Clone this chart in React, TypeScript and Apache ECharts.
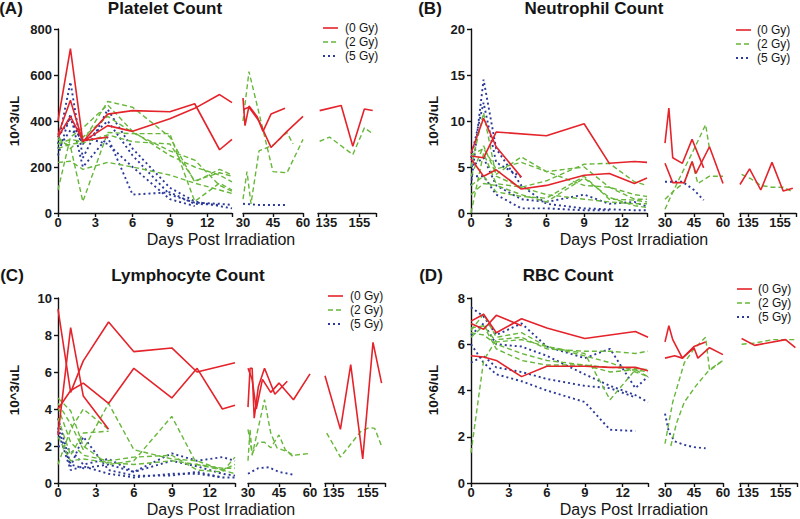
import React, { useEffect, useRef } from "react";
import * as echarts from "echarts";

// ---------- data ----------
const groupNames = ["(0 Gy)", "(2 Gy)", "(5 Gy)"];
const panelTitles = ["Platelet Count", "Neutrophil Count", "Lymphocyte Count", "RBC Count"];
const panelLetters = ["(A)", "(B)", "(C)", "(D)"];
const yUnits = ["10^3/uL", "10^3/uL", "10^3/uL", "10^6/uL"];
const yMaxes = [800, 20, 10, 8];
const yIntervals = [200, 5, 2, 2];
const xTitle = "Days Post Irradiation";

const segRanges = [[0, 14], [30, 60], [130, 165]];
const segLabels = [[0, 3, 6, 9, 12], [30, 45, 60], [135, 155]];
const segTicks = [[0, 3, 6, 9, 12, 14], [30, 45, 60], [130, 135, 155, 165]];

// Panel A: platelets (each inner list = one animal, [day, value])
const plateletRed = [
  [[0, 400], [1, 715], [2, 310], [4, 430], [6, 445], [9, 440], [11, 475], [13, 275], [14, 320]],
  [[0, 340], [1, 490], [2, 310], [4, 380], [6, 355], [9, 410], [11, 455], [13, 515], [14, 480]],
  [[0, 330], [1, 420], [2, 315], [4, 330]],
  [[30, 500], [31, 380], [33, 465], [37, 420], [40, 355], [44, 430], [51, 455]],
  [[30, 450], [33, 460], [38, 400], [44, 285], [52, 355], [60, 420]],
  [[131, 445], [144, 467], [151, 290], [158, 452], [163, 446]],
];
const plateletGreen = [
  [[0, 300], [1, 320], [2, 310], [4, 485], [6, 460], [9, 330], [11, 135], [13, 190], [14, 165]],
  [[0, 320], [1, 290], [2, 50], [4, 350], [6, 345], [9, 345], [11, 50], [13, 130], [14, 100]],
  [[0, 220], [1, 225], [2, 190], [4, 220], [6, 200], [9, 165], [11, 130], [13, 100], [14, 85]],
  [[0, 100], [1, 330], [2, 370], [4, 470], [6, 355], [9, 250], [11, 200], [13, 165], [14, 135]],
  [[0, 330], [1, 280], [2, 330], [4, 420], [6, 350], [9, 270], [11, 230], [13, 120], [14, 95]],
  [[0, 280], [1, 300], [2, 305], [4, 340], [6, 310], [9, 300], [11, 140], [13, 175], [14, 160]],
  [[30, 400], [33, 615], [45, 180], [52, 175], [60, 320]],
  [[30, 60], [32, 180], [34, 40], [38, 270], [45, 295], [52, 350], [55, 300]],
  [[131, 312], [137, 330], [151, 254], [158, 370], [163, 345]],
];
const plateletBlue = [
  [[0, 300], [1, 570], [2, 240], [4, 450], [6, 280], [9, 110], [11, 50], [13, 30], [14, 20]],
  [[0, 250], [1, 430], [2, 200], [4, 330], [6, 80], [9, 90], [11, 40], [13, 35]],
  [[0, 330], [1, 410], [2, 300], [4, 400], [6, 250], [9, 80], [11, 45], [13, 40], [14, 35]],
  [[0, 280], [1, 360], [2, 330], [4, 300], [6, 200], [9, 60], [11, 30]],
  [[30, 40], [38, 35], [45, 35], [52, 35]],
];

// Panel B: neutrophils
const neutroRed = [
  [[0, 6.2], [1, 6.0], [2, 8.8], [6, 8.4], [9, 9.7], [11, 5.4], [13, 5.6], [14, 5.5]],
  [[0, 6.5], [1, 10.3], [2, 7.2], [4, 3.9]],
  [[0, 5.9], [1, 4.0], [2, 4.7], [4, 2.6], [6, 3.0], [9, 4.1], [11, 4.3], [13, 3.2], [14, 3.8]],
  [[30, 7.6], [32, 11.4], [34, 6.0], [39, 5.4], [44, 8.0], [50, 4.9]],
  [[30, 5.4], [34, 3.3], [40, 3.3], [44, 5.6], [46, 4.3], [53, 7.2], [60, 3.2]],
  [[130, 3.1], [136, 4.8], [143, 2.5], [150, 5.5], [157, 2.4], [163, 2.7]],
];
const neutroGreen = [
  [[0, 5], [1, 10.9], [2, 4], [4, 2.8], [6, 2.0], [9, 1.5], [11, 1.2], [13, 1.0], [14, 1.0]],
  [[0, 4], [1, 7.3], [2, 4.2], [4, 6.1], [6, 4.5], [9, 3], [11, 2.8], [13, 2.0], [14, 1.8]],
  [[0, 0], [1, 6.5], [2, 3.2], [4, 2.8], [6, 3.5], [9, 5.3], [11, 5.4], [13, 3.4], [14, 3.0]],
  [[0, 3], [1, 4], [2, 2.3], [4, 1.8], [6, 1.6], [9, 4.0], [11, 1.5], [13, 1.4], [14, 1.2]],
  [[0, 6.3], [1, 7], [2, 4.8], [4, 5.5], [6, 4.5], [9, 5], [11, 2.8], [13, 1.5], [14, 1.5]],
  [[0, 2], [1, 3.2], [2, 3], [4, 2], [6, 1.2], [9, 3.8], [11, 1.7], [13, 0.8], [14, 0.6]],
  [[30, 0.4], [33, 1.8], [38, 4], [44, 6.5], [51, 9.6], [53, 7]],
  [[30, 1.5], [35, 2.5], [40, 3.3], [44, 5.6], [47, 3.2], [53, 4.0], [60, 4.0]],
  [[131, 4.2], [137, 3.7], [143, 3.0], [150, 2.8], [157, 2.8], [163, 2.3]],
];
const neutroBlue = [
  [[0, 3], [1, 14.5], [2, 7], [4, 3], [6, 1], [9, 0.5], [11, 0.4], [13, 0.3], [14, 0.3]],
  [[0, 6], [1, 12], [2, 5.5], [4, 3.9]],
  [[0, 5], [1, 6], [2, 3], [4, 1.5], [6, 1.2], [9, 2.0], [11, 1], [13, 1.2], [14, 0.7]],
  [[0, 4], [1, 4], [2, 2], [4, 0.5], [6, 0.5], [9, 0.3], [11, 0.3]],
  [[30, 3.4], [39, 3.4], [45, 2.5], [50, 1.4]],
];

// Panel C: lymphocytes
const lymphRed = [
  [[0, 9.4], [1, 4.9], [2, 6.6], [4, 8.7], [6, 7.1], [9, 7.3], [11, 6.0], [14, 6.5]],
  [[0, 2.6], [1, 8.4], [2, 4.7], [4, 2.9]],
  [[0, 4.0], [1, 5.0], [2, 5.4], [4, 4.3], [6, 6.2], [9, 4.6], [11, 6.2], [13, 4.0], [14, 4.2]],
  [[30, 4.1], [31, 6.2], [32, 6.2], [33, 3.5], [35, 5.2], [38, 6.2], [43, 4.8], [49, 5.5]],
  [[30, 6.2], [32, 5.6], [34, 4.0], [37, 5.6], [41, 4.9], [45, 5.4], [52, 4.5], [60, 5.9]],
  [[130, 5.8], [139, 2.9], [145, 6.4], [152, 1.3], [158, 7.6], [163, 5.4]],
];
const lymphGreen = [
  [[0, 4.6], [1, 3.9], [2, 2.0], [4, 1.0], [6, 1.2], [9, 3.6], [11, 1.0], [13, 0.7], [14, 1.0]],
  [[0, 4.3], [1, 3.2], [2, 1.8], [4, 4.3], [6, 1.8], [9, 1.3], [11, 1.2], [13, 0.7], [14, 0.5]],
  [[0, 1.0], [1, 2.9], [2, 4.0], [4, 2.9]],
  [[0, 3.5], [1, 1.5], [2, 2.7], [4, 2.8]],
  [[0, 2.5], [1, 1.2], [2, 1.3], [4, 1.1], [6, 1.0], [9, 1.2], [11, 1.0], [13, 0.8], [14, 0.8]],
  [[0, 4.1], [1, 2.2], [2, 1.5], [4, 1.2], [6, 1.4], [9, 1.5], [11, 0.7], [13, 0.6], [14, 1.4]],
  [[30, 1.2], [31, 2.9], [32, 1.5], [36, 3.5], [38, 4.5], [41, 2.7], [44, 1.9], [49, 1.7], [52, 1.5], [60, 1.6]],
  [[30, 2.9], [32, 1.6], [35, 2.2], [38, 2.2], [41, 1.9], [45, 2.6], [48, 1.8], [52, 1.4]],
  [[131, 2.7], [139, 1.4], [151, 2.8], [156, 3.0], [159, 2.95], [163, 2.0]],
];
const lymphBlue = [
  [[0, 3.5], [1, 1.0], [2, 0.8], [4, 1.0], [6, 0.6], [9, 1.6], [11, 1.2], [13, 1.4], [14, 1.2]],
  [[0, 2.8], [1, 0.7], [2, 0.9], [4, 0.5], [6, 0.3], [9, 0.5], [11, 0.5], [13, 0.3], [14, 0.3]],
  [[0, 2.0], [1, 1.8], [2, 1.0], [4, 1.3], [6, 0.6], [9, 1.2], [11, 0.9], [13, 0.5], [14, 0.4]],
  [[0, 3.0], [1, 0.9], [2, 2.5], [4, 0.7], [6, 0.4], [9, 0.4], [11, 0.6], [13, 0.3]],
  [[30, 0.5], [35, 0.8], [40, 0.85], [45, 0.6], [52, 0.45]],
];

// Panel D: RBC
const rbcRed = [
  [[0, 7.0], [1, 7.3], [2, 6.5], [4, 7.1], [6, 6.7], [9, 6.25], [11, 6.4], [13, 6.55], [14, 6.3]],
  [[0, 6.9], [1, 6.65], [2, 7.25], [4, 6.8]],
  [[0, 5.5], [1, 5.45], [2, 5.3], [4, 4.6], [6, 5.05], [9, 5.05], [11, 5.0], [13, 5.0], [14, 4.85]],
  [[30, 6.1], [32, 6.8], [34, 6.2], [39, 5.4], [45, 5.9], [51, 6.1]],
  [[30, 5.4], [35, 5.5], [39, 5.4], [45, 5.85], [47, 5.4], [53, 5.85], [60, 5.55]],
  [[131, 6.25], [139, 5.95], [158, 6.2], [164, 5.85]],
];
const rbcGreen = [
  [[0, 1.3], [1, 5.3], [2, 6.2], [4, 6.3], [6, 5.8], [9, 5.7], [11, 5.7], [13, 5.6], [14, 5.7]],
  [[0, 6.7], [1, 6.8], [2, 6.1], [4, 6.2], [6, 5.9], [9, 5.6], [11, 3.6], [13, 4.9], [14, 4.6]],
  [[0, 6.5], [1, 6.4], [2, 6.0], [4, 5.6], [6, 5.3], [9, 5.1], [11, 4.8], [13, 4.9], [14, 4.8]],
  [[0, 6.3], [1, 6.8], [2, 5.8], [4, 5.3], [6, 5.1], [9, 5.1], [11, 5.0], [13, 4.95], [14, 4.9]],
  [[0, 6.6], [1, 7.3], [2, 6.3], [4, 6.5], [6, 5.9], [9, 5.5], [11, 5.2], [13, 4.8], [14, 4.6]],
  [[30, 1.7], [34, 3.5], [40, 5.2], [45, 5.8], [51, 6.3], [53, 4.9], [60, 5.3]],
  [[33, 1.6], [36, 2.6], [40, 3.5], [46, 4.2], [52, 4.8], [60, 5.3]],
  [[131, 6.0], [139, 6.05], [150, 6.2], [158, 6.2], [164, 6.2]],
];
const rbcBlue = [
  [[0, 7.6], [1, 7.2], [2, 6.4], [4, 6.9], [6, 5.9], [9, 5.4], [11, 5.8], [13, 4.1], [14, 4.6]],
  [[0, 6.4], [1, 6.9], [2, 6.0], [4, 5.9], [6, 5.5], [9, 4.7], [11, 4.2], [13, 3.8], [14, 3.5]],
  [[0, 6.0], [1, 5.2], [2, 4.7], [4, 4.4], [6, 4.0], [9, 3.5], [11, 2.3], [13, 2.25]],
  [[0, 5.2], [1, 5.5], [2, 5.0], [4, 4.8], [6, 4.5], [9, 4.2], [11, 4.1], [13, 3.7]],
  [[30, 3.0], [32, 2.2], [35, 1.8], [40, 1.65], [45, 1.55], [51, 1.5]],
];

const panelData = [
  [plateletRed, plateletGreen, plateletBlue],
  [neutroRed, neutroGreen, neutroBlue],
  [lymphRed, lymphGreen, lymphBlue],
  [rbcRed, rbcGreen, rbcBlue],
];

// ---------- styling / layout ----------
const FONT = "'Liberation Sans', Arial, Helvetica, sans-serif";
const COLORS = ["#e5232b", "#67b73a", "#2b3a98"];
const LINE_TYPES: any[] = ["solid", [5, 3], [2, 3]];
const LINE_WIDTHS = [1.6, 1.4, 1.9];
const AXIS_COLOR = "#111";
const LEGEND_STEP = 14;

const layouts = [
  { top: 29, height: 184, segs: [[58, 174], [243, 60], [318, 58]], legend: [323, 345, 28], title: [165, 8], letter: [11, 8], yName: [14, 121], xName: [221, 239] },
  { top: 29, height: 184, segs: [[471, 176], [665, 58], [740, 56]], legend: [736, 757, 30], title: [594, 8], letter: [430, 8], yName: [433, 121], xName: [634, 239] },
  { top: 298, height: 185, segs: [[58, 177], [248, 62], [325, 60]], legend: [328, 350, 296], title: [188, 275], letter: [12, 275], yName: [14, 390], xName: [221, 509] },
  { top: 298, height: 185, segs: [[471, 177], [665, 58], [740, 57]], legend: [737, 758, 289], title: [568, 275], letter: [431, 275], yName: [433, 390], xName: [634, 509] },
];

function segOf(line: number[][]) {
  const d = line[0][0];
  return d < 20 ? 0 : d < 100 ? 1 : 2;
}

function textEl(text: string, x: number, y: number, size: number, weight: string, align = "center", rotation = 0) {
  return {
    type: "text",
    x,
    y,
    rotation,
    silent: true,
    style: {
      text,
      fontSize: size,
      fontWeight: weight,
      fontFamily: FONT,
      fill: "#151515",
      align,
      verticalAlign: "middle",
      textAlign: align,
      textVerticalAlign: "middle",
    },
  };
}

function buildOption() {
  const grid: any[] = [];
  const xAxis: any[] = [];
  const yAxis: any[] = [];
  const series: any[] = [];
  const graphic: any[] = [];

  layouts.forEach((lay, pi) => {
    lay.segs.forEach((seg, s) => {
      const gi = pi * 3 + s;
      grid.push({ left: seg[0], top: lay.top, width: seg[1], height: lay.height, containLabel: false });
      xAxis.push({
        type: "value",
        gridIndex: gi,
        min: segRanges[s][0],
        max: segRanges[s][1],
        axisLine: { show: true, onZero: false, lineStyle: { color: AXIS_COLOR, width: 1.4 } },
        axisTick: { show: true, length: 4, customValues: segTicks[s], lineStyle: { color: AXIS_COLOR, width: 1.4 } },
        axisLabel: {
          customValues: segLabels[s],
          fontSize: 13,
          fontWeight: "bold",
          fontFamily: FONT,
          color: "#1a1a1a",
          margin: 3,
        },
        splitLine: { show: false },
      });
      yAxis.push({
        type: "value",
        gridIndex: gi,
        min: 0,
        max: yMaxes[pi],
        interval: yIntervals[pi],
        show: s === 0,
        axisLine: { show: true, lineStyle: { color: AXIS_COLOR, width: 1.4 } },
        axisTick: { show: true, length: 4, lineStyle: { color: AXIS_COLOR, width: 1.4 } },
        axisLabel: { fontSize: 13, fontWeight: "bold", fontFamily: FONT, color: "#1a1a1a", margin: 6 },
        splitLine: { show: false },
      });
    });

    // draw blue, then green, then red on top
    [2, 1, 0].forEach((g) => {
      panelData[pi][g].forEach((line) => {
        const gi = pi * 3 + segOf(line);
        series.push({
          type: "line",
          name: groupNames[g],
          xAxisIndex: gi,
          yAxisIndex: gi,
          data: line,
          showSymbol: false,
          symbol: "none",
          silent: true,
          lineStyle: { color: COLORS[g], width: LINE_WIDTHS[g], type: LINE_TYPES[g] },
          itemStyle: { color: COLORS[g] },
        });
      });
    });

    // legend (drawn as graphic so the line styles match the series)
    groupNames.forEach((name, g) => {
      const y = lay.legend[2] + g * LEGEND_STEP;
      graphic.push({
        type: "line",
        silent: true,
        shape: { x1: lay.legend[0], y1: y, x2: lay.legend[0] + 15, y2: y },
        style: {
          stroke: COLORS[g],
          lineWidth: LINE_WIDTHS[g],
          lineDash: Array.isArray(LINE_TYPES[g]) ? LINE_TYPES[g] : null,
        },
      });
      graphic.push(textEl(name, lay.legend[1], y, 12, "normal", "left"));
    });

    graphic.push(textEl(panelLetters[pi], lay.letter[0], lay.letter[1], 17, "bold"));
    graphic.push(textEl(panelTitles[pi], lay.title[0], lay.title[1], 17, "bold"));
    graphic.push(textEl(yUnits[pi], lay.yName[0], lay.yName[1], 13.5, "bold", "center", Math.PI / 2));
    graphic.push(textEl(xTitle, lay.xName[0], lay.xName[1], 16, "normal"));
  });

  return { animation: false, backgroundColor: "#ffffff", grid, xAxis, yAxis, series, graphic };
}

export default function App() {
  const ref = useRef<HTMLDivElement>(null);
  useEffect(() => {
    if (!ref.current) return;
    const chart = echarts.init(ref.current, undefined, { renderer: "svg" });
    chart.setOption(buildOption() as any);
    return () => chart.dispose();
  }, []);
  return (
    <div
      ref={ref}
      style={{ position: "fixed", left: 0, top: 0, width: 800, height: 519, background: "#fff" }}
    />
  );
}
